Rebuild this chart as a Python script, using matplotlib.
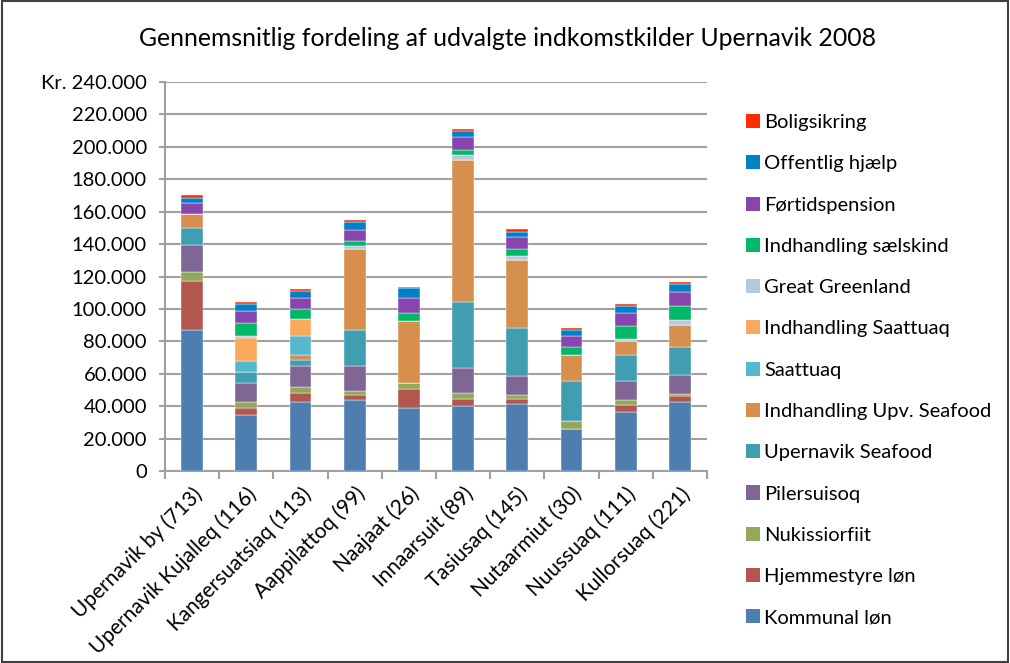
import matplotlib
matplotlib.use("Agg")
import matplotlib.pyplot as plt
from matplotlib.patches import Rectangle, Patch
import numpy as np

plt.rcParams["font.family"] = ["Lato", "DejaVu Sans"]

# Villages (number of persons)
categories = [
    "Upernavik by (713)", "Upernavik Kujalleq (116)", "Kangersuatsiaq (113)",
    "Aappilattoq (99)", "Naajaat (26)", "Innaarsuit (89)", "Tasiusaq (145)",
    "Nutaarmiut (30)", "Nuussuaq (111)", "Kullorsuaq (221)",
]

# Average income per source, kr.
kommunal_lon = [87000, 34400, 42300, 43500, 38800, 40000, 41200, 25800, 36500, 42500]
hjemmestyre_lon = [30000, 4400, 5800, 3500, 11700, 4500, 3300, 0, 4500, 3500]
nukissiorfiit = [6000, 3700, 3900, 2300, 3700, 3500, 2500, 5200, 2500, 1400]
pilersuisoq = [16500, 11700, 12800, 15300, 0, 15300, 11800, 0, 11800, 11600]
upernavik_seafood = [10300, 6800, 3500, 22300, 0, 41000, 29300, 24300, 16300, 17500]
indh_upv_seafood = [8500, 0, 3300, 50300, 38600, 87700, 42000, 16300, 8500, 13800]
saattuaq = [0, 7000, 11500, 0, 0, 0, 0, 0, 0, 0]
indh_saattuaq = [0, 14000, 10700, 0, 0, 0, 0, 0, 0, 0]
great_greenland = [0, 1400, 0, 1400, 0, 2800, 2500, 0, 1200, 2700]
indh_saelskind = [0, 8000, 6200, 3300, 4700, 3500, 4500, 5000, 8100, 9100]
fortidspension = [7000, 7300, 6600, 6800, 9100, 8000, 7200, 6600, 8200, 8400]
offentlig_hjaelp = [3300, 4500, 4700, 4700, 6000, 3500, 3300, 3700, 4500, 4600]
boligsikring = [1400, 1200, 1200, 1200, 1200, 1200, 1400, 1200, 1200, 1200]

series = [
    ("Kommunal løn", kommunal_lon, "#4E7DB0"),
    ("Hjemmestyre løn", hjemmestyre_lon, "#B3564E"),
    ("Nukissiorfiit", nukissiorfiit, "#93A85B"),
    ("Pilersuisoq", pilersuisoq, "#7F6695"),
    ("Upernavik Seafood", upernavik_seafood, "#419DB0"),
    ("Indhandling Upv. Seafood", indh_upv_seafood, "#D68F4C"),
    ("Saattuaq", saattuaq, "#55B8CF"),
    ("Indhandling Saattuaq", indh_saattuaq, "#FBA85F"),
    ("Great Greenland", great_greenland, "#B9C7DE"),
    ("Indhandling sælskind", indh_saelskind, "#00B865"),
    ("Førtidspension", fortidspension, "#8845AE"),
    ("Offentlig hjælp", offentlig_hjaelp, "#0080C6"),
    ("Boligsikring", boligsikring, "#FF2C00"),
]

fig = plt.figure(figsize=(10.1, 6.63), dpi=100)
ax = fig.add_axes([165 / 1010, 1 - 471 / 663, 542 / 1010, (471 - 82) / 663])

x = np.arange(len(categories))
bottom = np.zeros(len(categories))
handles = []
for label, values, color in series:
    ax.bar(x, values, width=0.4, bottom=bottom, color=color,
           edgecolor="white", linewidth=0.3, zorder=3)
    bottom += np.array(values)
    handles.append(Patch(facecolor=color, label=label))

ax.set_xlim(-0.5, len(categories) - 0.5)
ax.set_ylim(0, 240000)
yticks = np.arange(0, 240001, 20000)
ax.set_yticks(yticks)
ylabels = [f"{v:,}".replace(",", ".") for v in yticks]
ylabels[-1] = "Kr. " + ylabels[-1]
ax.set_yticklabels(ylabels, fontsize=14.5)
ax.yaxis.grid(True, color="#A0A0A0", linewidth=1.5, zorder=0)

ax.set_xticks(x)
ax.set_xticklabels(categories, rotation=45, ha="right", rotation_mode="anchor",
                   fontsize=15)
ax.set_xticks(np.arange(-0.5, len(categories)), minor=True)
ax.tick_params(axis="x", which="major", length=0, pad=9)
ax.tick_params(axis="x", which="minor", length=6, color="#A0A0A0", width=1.5)
ax.tick_params(axis="y", length=4, color="#A0A0A0", width=1.5, pad=9)

for side in ["top", "right"]:
    ax.spines[side].set_visible(False)
for side in ["left", "bottom"]:
    ax.spines[side].set_color("#A0A0A0")
    ax.spines[side].set_linewidth(1.5)

fig.text(0.503, 1 - 38 / 663, "Gennemsnitlig fordeling af udvalgte indkomstkilder Upernavik 2008",
         ha="center", va="center", fontsize=17.8)

fig.legend(handles[::-1], [h.get_label() for h in handles[::-1]],
           loc="upper left", bbox_to_anchor=(738 / 1010, 1 - 106 / 663),
           frameon=False, fontsize=14.5, handlelength=0.7, handleheight=0.7,
           handletextpad=0.2, labelspacing=1.2, borderaxespad=0)

fig.patches.append(Rectangle((0.002, 0.002), 0.996, 0.996, transform=fig.transFigure,
                             fill=False, edgecolor="#404040", linewidth=1.5))

fig.savefig("out.png", dpi=100)
